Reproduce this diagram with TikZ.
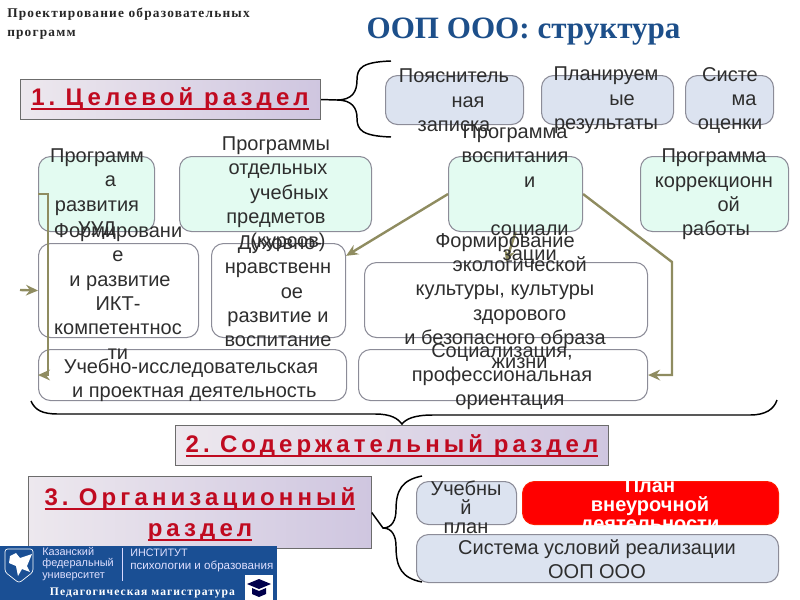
\documentclass[tikz,border=0pt]{standalone}
\usepackage{fontspec}
\setmainfont{Liberation Sans}
\newfontfamily\spacedfont[LetterSpace=17]{Liberation Sans}
\newfontfamily\serifbody{Liberation Serif}
\newfontfamily\serifspaced[LetterSpace=9]{Liberation Serif}
\usetikzlibrary{arrows.meta,calc}
\definecolor{olivearrow}{HTML}{8F8C60}
\definecolor{boxline}{HTML}{8C8C98}
\definecolor{bluefill}{HTML}{DCE3F0}
\definecolor{greenfill}{HTML}{E3FBF1}
\definecolor{headred}{HTML}{C00A20}
\definecolor{titleblue}{HTML}{1D4F8A}
\definecolor{logoblue}{HTML}{1A4F94}
\definecolor{headleft}{HTML}{EDE8EE}
\definecolor{headright}{HTML}{CFC6E0}
\newcommand{\ruled}[1]{\leavevmode\setbox0\hbox{#1}\rlap{\color{headred}\rule[-3.2pt]{\wd0}{1.5pt}}\box0}
\tikzset{
  x=0.75pt,y=-0.75pt,
  boxbase/.style={draw=boxline,line width=0.8pt,rounded corners=9pt,inner sep=0pt,anchor=north west},
  bluebox/.style={boxbase,fill=bluefill},
  greenbox/.style={boxbase,fill=greenfill},
  whitebox/.style={boxbase},
  redbox/.style={boxbase,fill=red,draw=red!80!orange},
  headbox/.style={draw=gray!85!black,line width=0.8pt,left color=headleft,right color=headright,inner sep=0pt,anchor=north west},
  bodytext/.style={font=\fontsize{15}{18.25}\selectfont,text=black!82,align=center,inner sep=0pt},
  tighttext/.style={font=\fontsize{15}{14.25}\selectfont,text=black!82,align=center,inner sep=0pt},
  headtext/.style={font=\fontsize{18}{23.25}\spacedfont\bfseries,text=headred,align=center,inner sep=0pt},
  conn/.style={draw=olivearrow,line width=1.8pt,-{Stealth[length=9pt,width=8pt,inset=3pt]}},
  bracecurve/.style={draw=black,line width=1.1pt},
}
\newcommand{\boxat}[6]{\node[#1,minimum width=#5*0.75pt,minimum height=#6*0.75pt] (#2) at (#3,#4) {};}
\begin{document}
\begin{tikzpicture}
\useasboundingbox (0,0) rectangle (800,600);
% headers
\node[inner sep=0pt,anchor=north west,align=left,font=\fontsize{10}{14.2}\serifspaced\bfseries,text=black!85] (course) at (7,8) {Проектирование образовательных\\программ};
\node[inner sep=0pt,font=\fontsize{23.3}{28}\serifbody\bfseries,text=titleblue] (maintitle) at (523.5,32) {ООП ООО: структура};

% section heads
\node[headbox,minimum width=225pt,minimum height=30pt] (h1) at (20,79) {};
\node[headbox,minimum width=325pt,minimum height=30pt] (h2) at (175,425) {};
\node[headbox,minimum width=257pt,minimum height=54pt] (h3) at (28,476) {};

% goal boxes
\boxat{bluebox}{note}{385}{75}{138}{49}
\boxat{bluebox}{plan}{541}{75}{132}{49}
\boxat{bluebox}{eval}{685}{75}{88}{49}

% programme boxes
\boxat{greenbox}{uud}{38}{156}{116}{75}
\boxat{greenbox}{subj}{179}{156}{192}{75}
\boxat{greenbox}{vosp}{448}{156}{134}{75}
\boxat{greenbox}{corr}{640}{156}{148}{75}

% content boxes
\boxat{whitebox}{ikt}{38}{243}{160}{94}
\boxat{whitebox}{dnr}{211}{243}{134}{94}
\boxat{whitebox}{eco}{364}{262}{283}{75}
\boxat{whitebox}{ucheb}{38}{349}{308}{51}
\boxat{whitebox}{soc}{358}{349}{289}{51}

% organisation boxes
\boxat{bluebox}{up}{416}{481}{100}{43}
\boxat{redbox}{vd}{522}{481}{256}{43}
\boxat{bluebox}{cond}{416}{534}{362}{48}

% connectors
\coordinate (free) at (20,290);
\coordinate (bend) at (672,262);
\draw[conn] (uud.west) -- ++(10,0) |- (ucheb.west);
\draw[conn] (free) -- (ikt.west);
\draw[conn] (vosp.west) -- ([yshift=26pt]dnr.east);
\draw[conn] (vosp.south) -- (eco.north);
\draw[conn] (vosp.east) -- (bend) |- (soc.east);

% braces
\draw[bracecurve] (h1.east) -- (337,100) .. controls (352,100) and (357,92) .. (357,80) .. controls (357,68) and (362,62) .. (391,61);
\draw[bracecurve] (337,100) .. controls (352,100) and (357,108) .. (357,118) .. controls (357,130) and (362,136) .. (391,137);
\draw[bracecurve] (31,401) .. controls (35,410) and (42,414) .. (58,414) -- (375,414) .. controls (392,414) and (398,419) .. (402,424) .. controls (406,419) and (414,415) .. (433,415) -- (750,415) .. controls (766,415) and (774,409) .. (777,400);
\draw[bracecurve] (h3.east) -- (383,528) .. controls (392,528) and (396,520) .. (396,510) .. controls (396,490) and (402,480) .. (422,476);
\draw[bracecurve] (383,528) .. controls (392,528) and (396,536) .. (396,546) .. controls (396,568) and (402,578) .. (422,582);

% labels
\node[bodytext] (tnote) at (454,100.5) {Пояснитель\\\hspace*{21pt}ная\\записка};
\node[bodytext] (tplan) at (606,100.5) {Планируем\\\hspace*{24pt}ые\\результаты};
\node[bodytext] (teval) at (730,100.5) {Систе\\\hspace*{21pt}ма\\оценки};
\node[bodytext] (tuud) at (97,194) {Программ\\\hspace*{20pt}а\\развития\\УУД};
\node[bodytext] (tsubj) at (276,194.5) {Программы\\\hspace*{3pt}отдельных\\\hspace*{20pt}учебных\\предметов\\\hspace*{18pt}(курсов)};
\node[bodytext] (tvosp) at (515,194.5) {Программа\\воспитания\\\hspace*{22pt}и\\\phantom{x}\\\hspace*{22pt}социали\\\hspace*{22pt}зации};
\node[bodytext] (tcorr) at (714,194.5) {Программа\\коррекционн\\\hspace*{22pt}ой\\\hspace*{3pt}работы};
\node[bodytext] (tikt) at (118,291.5) {Формировани\\е\\\hspace*{3pt}и развитие\\ИКТ-\\компетентнос\\ти};
\node[bodytext] (tdnr) at (278,291.5) {\hspace*{3pt}Духовно-\\нравственн\\\hspace*{21pt}ое\\развитие и\\воспитание};
\node[bodytext] (teco) at (505,301) {Формирование\\\hspace*{22pt}экологической\\культуры, культуры\\\hspace*{22pt}здорового\\и безопасного образа\\\hspace*{22pt}жизни};
\node[bodytext] (tucheb) at (191,380) {Учебно-исследовательская\\\hspace*{5pt}и проектная деятельность};
\node[bodytext] (tsoc) at (502,376.5) {Социализация,\\профессиональная\\\hspace*{12pt}ориентация};
\node[tighttext] (tup) at (466,507) {Учебны\\й\\план};
\node[tighttext,text=white,font=\fontsize{15}{14.25}\selectfont\bfseries] (tvd) at (650,507) {План\\внеурочной\\деятельности};
\node[bodytext] (tcond) at (597,559) {Система условий реализации\\ООП ООО};
\node[headtext] (th1) at (170,99.5) {\ruled{1.\kern-3pt{} Целевой раздел}};
\node[headtext] (th2) at (392,446) {\ruled{2.\kern-3pt{} Содержательный раздел}};
\node[headtext] (th3) at (200,515) {\ruled{3.\kern-3pt{} Организационный}\\\ruled{раздел}};

% logo band
\fill[logoblue] (0,546) rectangle (277,600);
\draw[white,line width=0.5pt,rounded corners=2pt] (5,549) -- (33,549) -- (33,572) -- (19,583) -- (5,572) -- cycle;
\fill[white] (10,556) -- (16,553) -- (20,558) -- (32,554) -- (27,566) -- (30,572) -- (22,569) -- (18,576) -- (16,566) -- (9,563) -- cycle;
\node[inner sep=0pt,anchor=north west,align=left,font=\fontsize{8.2}{8.7}\selectfont,text=white!88!blue] (kfu) at (42,547) {Казанский\\федеральный\\университет};
\draw[white!85!blue,line width=0.5pt] (122,548) -- (122,581);
\node[inner sep=0pt,anchor=west,font=\fontsize{8.1}{9}\selectfont,text=white!88!blue] (inst) at (130,553) {ИНСТИТУТ};
\node[inner sep=0pt,anchor=west,font=\fontsize{8.7}{9}\selectfont,text=white!88!blue] (psy) at (130,566) {психологии и образования};
\node[inner sep=0pt,font=\fontsize{8.7}{9}\serifspaced\bfseries,text=white] (mag) at (142.5,593) {Педагогическая магистратура};
\fill[white] (245,575) rectangle (273,600);
\fill[black!70!blue] (247,584) -- (259,579) -- (271,584) -- (259,589) -- cycle;
\fill[black!70!blue] (252,588) -- (259,591) -- (266,588) -- (266,594) -- (259,597) -- (252,594) -- cycle;
\end{tikzpicture}
\end{document}
